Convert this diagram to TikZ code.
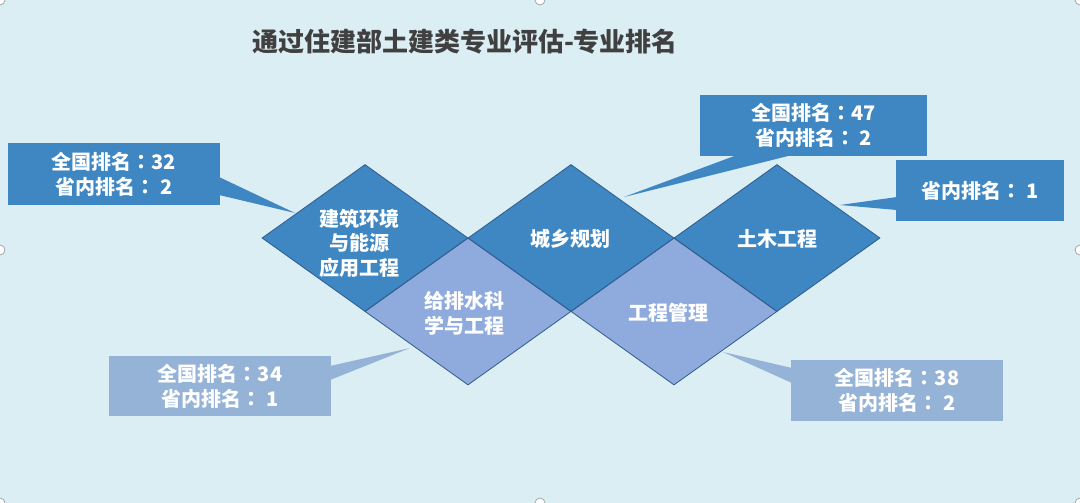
\documentclass[tikz,border=0pt]{standalone}
\usepackage{fontspec}
\setmainfont{Noto Sans CJK SC}
\newfontfamily\tcfont{Noto Sans CJK TC}
\newcommand{\ccolon}{{\tcfont\bfseries ：}}
\usetikzlibrary{shapes.geometric}
\definecolor{bg}{HTML}{DBEEF4}
\definecolor{dk}{HTML}{3E87C3}
\definecolor{lt}{HTML}{8FAADC}
\definecolor{ltbox}{HTML}{95B3D7}
\definecolor{edge}{HTML}{2F5C8C}
\definecolor{titlec}{HTML}{404040}
\tikzset{
  dia/.style={diamond, inner sep=0pt, minimum width=206pt, minimum height=147pt, draw=edge, line width=0.8pt},
  dkdia/.style={dia, fill=dk},
  ltdia/.style={dia, fill=lt},
  lab/.style={text=white, font=\fontsize{20}{24.5}\selectfont\bfseries, align=center, inner sep=0pt},
  box/.style={rectangle, inner sep=0pt, text=white, font=\fontsize{20}{25}\selectfont\bfseries, align=center},
  dkbox/.style={box, fill=dk},
  ltbox/.style={box, fill=ltbox},
  handle/.style={circle, draw=gray!70, fill=white, line width=0.8pt, minimum size=10pt, inner sep=0pt},
}
\begin{document}
\begin{tikzpicture}[x=1pt, y=-1pt]
\fill[bg] (0,0) rectangle (1080,503);
\useasboundingbox (0,0) rectangle (1080,503);

% title
\node[text=titlec, font=\fontsize{26}{30}\selectfont\bfseries, inner sep=0pt] (title) at (465,42) {通过住建部土建类专业评估-专业排名};

% tail tips
\coordinate (p1) at (295,213);
\coordinate (p2) at (624,197);
\coordinate (p3) at (840,205);
\coordinate (p4) at (410,348);
\coordinate (p5) at (723,352);

% tails
\fill[dk] (219,177) -- (219,195) -- (p1) -- cycle;
\fill[dk] (737,155) -- (792,155) -- (p2) -- cycle;
\fill[dk] (897,197) -- (897,210) -- (p3) -- cycle;
\fill[ltbox] (330,366) -- (330,380) -- (p4) -- cycle;
\fill[ltbox] (792,368) -- (792,383) -- (p5) -- cycle;

% diamonds
\node[dkdia] (d1) at (365,238) {};
\node[dkdia] (d2) at (571,238) {};
\node[dkdia] (d3) at (777,238) {};
\node[ltdia] (d4) at (468,311.5) {};
\node[ltdia] (d5) at (674,311.5) {};

\node[lab] (t1) at (359,243) {建筑环境\\与能源\\应用工程};
\node[lab] (t2) at (570,239) {城乡规划};
\node[lab] (t3) at (777,239) {土木工程};
\node[lab] (t4) at (464,313.5) {给排水科\\学与工程};
\node[lab] (t5) at (668,313) {工程管理};

% boxes
\node[dkbox, minimum width=212pt, minimum height=62pt] (c1) at (114,174) {全国排名\ccolon 32\\省内排名\ccolon\ 2};
\node[dkbox, minimum width=227pt, minimum height=61pt] (c2) at (813.5,125.5) {全国排名\ccolon 47\\省内排名\ccolon\ 2};
\node[dkbox, minimum width=168pt, minimum height=61pt] (c3) at (980,190.5) {省内排名\ccolon\ 1};
\node[ltbox, minimum width=222pt, minimum height=60pt] (c4) at (220,386) {全国排名\ccolon 34\\省内排名\ccolon\ 1};
\node[ltbox, minimum width=212pt, minimum height=61pt] (c5) at (897,390.5) {全国排名\ccolon 38\\省内排名\ccolon\ 2};

% selection handles
\node[handle] (h1) at (0,0) {};
\node[handle] (h2) at (540,0) {};
\node[handle] (h3) at (1080,0) {};
\node[handle] (h4) at (0,250) {};
\node[handle] (h5) at (1080,250) {};
\node[handle] (h6) at (0,503) {};
\node[handle] (h7) at (540,503) {};
\node[handle] (h8) at (1080,503) {};
\end{tikzpicture}
\end{document}
